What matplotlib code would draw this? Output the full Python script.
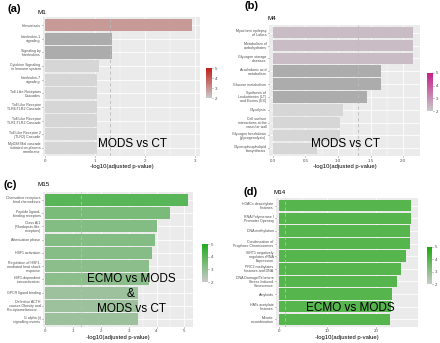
import numpy as np
import matplotlib
matplotlib.use("Agg")
import matplotlib.pyplot as plt
from matplotlib.colors import LinearSegmentedColormap

plt.rcParams['font.family'] = ['Liberation Sans', 'DejaVu Sans']

# panel (a) M1, MODS vs CT
a_terms = ["Hemostasis", "Interleukin-1\nsignaling", "Signaling by\nInterleukins",
           "Cytokine Signaling\nin Immune system", "Interleukin-7\nsignaling",
           "Toll-Like Receptors\nCascades", "Toll Like Receptor\nTLR6:TLR2 Cascade",
           "Toll Like Receptor\nTLR1:TLR2 Cascade", "Toll Like Receptor 2\n(TLR2) Cascade",
           "MyD88:Mal cascade\ninitiated on plasma\nmembrane"]
a_vals = [2.93, 1.33, 1.33, 1.07, 1.03, 1.03, 1.03, 1.03, 1.03, 1.03]
a_fill = [2.85, 1.9, 1.9, None, None, None, None, None, None, None]

# panel (b) M4, MODS vs CT
b_terms = ["Myoclonic epilepsy\nof Lafora", "Metabolism of\ncarbohydrates",
           "Glycogen storage\ndiseases", "Arachidonic acid\nmetabolism",
           "Glucose metabolism", "Synthesis of\nLeukotrienes (LT)\nand Eoxins (EX)",
           "Glycolysis", "Cell surface\ninteractions at the\nvascular wall",
           "Glycogen breakdown\n(glycogenolysis)", "Glycerophospholipid\nbiosynthesis"]
b_vals = [2.15, 2.15, 2.15, 1.66, 1.66, 1.45, 1.08, 1.03, 1.03, 0.67]
b_fill = [2.25, 2.25, 2.25, 1.9, 1.9, 1.9, None, None, None, None]

# panel (c) M15, ECMO vs MODS & MODS vs CT
c_terms = ["Chemokine receptors\nbind chemokines", "Peptide ligand-\nbinding receptors",
           "Class A/1\n(Rhodopsin-like\nreceptors)", "Attenuation phase", "HSF1 activation",
           "Regulation of HSF1-\nmediated heat shock\nresponse", "HSF1-dependent\ntransactivation",
           "GPCR ligand binding", "Defective ACTH\ncauses Obesity and\nPro-opiomelanocor...",
           "G alpha (i)\nsignalling events"]
c_vals = [5.12, 4.50, 4.02, 3.93, 3.85, 3.72, 3.72, 3.33, 3.33, 3.33]
c_fill = [4.0, 3.4, 3.25, 3.25, 3.2, 3.1, 3.1, 2.8, 2.8, 2.8]

# panel (d) M14, ECMO vs MODS
d_terms = ["HDACs deacetylate\nhistones", "RNA Polymerase I\nPromoter Opening",
           "DNA methylation", "Condensation of\nProphase Chromosomes",
           "SIRT1 negatively\nregulates rRNA\nExpression", "PRC2 methylates\nhistones and DNA",
           "DNA Damage/Telomere\nStress Induced\nSenescence", "Amyloids",
           "HATs acetylate\nhistones", "Meiotic\nrecombination"]
d_vals = [27.35, 27.25, 27.0, 27.0, 26.3, 25.2, 24.3, 23.3, 23.15, 22.95]
d_fill = [4.0, 4.0, 4.0, 4.0, 4.0, 4.0, 4.0, 4.0, 4.0, 4.0]

W, H = 440, 343
fig = plt.figure(figsize=(W / 100, H / 100), dpi=100)


def px(l, t, r, b):
    return [l / W, 1 - b / H, (r - l) / W, (b - t) / H]


def bar_colour(f, cmap):
    if f is None:
        return "#D6D6D6"
    if f < 2:
        return "#ACACAC"
    return cmap((f - 2) / 3)


def panel(box, cbox, terms, vals, fill, cmap, xlim, ticks, ticklabels, tag, tagpos, mod, modpos,
          note, notepos):
    ax = fig.add_axes(px(*box))
    ax.set_facecolor("#EBEBEB")
    n = len(terms)
    y = np.arange(n)[::-1]
    cols = [bar_colour(f, cmap) for f in fill]
    ax.set_xlim(*xlim)
    ax.set_ylim(-0.6, n - 0.4)
    ax.set_xticks(ticks)
    minor = [(ticks[i] + ticks[i + 1]) / 2 for i in range(len(ticks) - 1)]
    ax.set_xticks(minor, minor=True)
    ax.grid(True, which="major", color="white", lw=0.6)
    ax.grid(True, which="minor", axis="x", color="white", lw=0.3)
    ax.set_axisbelow(True)
    ax.barh(y, vals, height=0.9, color=cols, zorder=2)
    ax.axvline(1.3, color="#BBBBBB", lw=0.6, ls=(0, (4, 3)), zorder=3)
    ax.set_yticks(y)
    ax.set_yticklabels(terms, fontsize=2.6, color="#4D4D4D", linespacing=1.0)
    ax.set_xticklabels(ticklabels, fontsize=3.2, color="#4D4D4D")
    ax.tick_params(axis="both", length=1.0, width=0.4, color="#333333", pad=0.8)
    ax.tick_params(axis="x", which="minor", length=0)
    for s in ax.spines.values():
        s.set_visible(False)
    ax.set_xlabel("-log10(adjusted p-value)", fontsize=4.2, labelpad=0.8)
    fig.text(tagpos[0] / W, 1 - tagpos[1] / H, tag, fontsize=8, fontweight="bold",
             ha="left", va="center")
    fig.text(modpos[0] / W, 1 - modpos[1] / H, mod, fontsize=4.5, ha="left", va="center")
    fig.text(notepos[0] / W, 1 - notepos[1] / H, note, fontsize=8.5, ha="center",
             va="center", linespacing=1.35, zorder=5)
    cax = fig.add_axes(px(*cbox))
    grad = np.linspace(2, 5, 100).reshape(-1, 1)
    cax.imshow(grad, aspect="auto", cmap=cmap, origin="lower", extent=[0, 1, 2, 5])
    cax.set_xticks([])
    cax.yaxis.tick_right()
    cax.set_yticks([2, 3, 4, 5])
    cax.tick_params(axis="y", labelsize=3.2, length=1, width=0.4, pad=1, colors="#4D4D4D")
    for s in cax.spines.values():
        s.set_visible(False)


red = LinearSegmentedColormap.from_list("r", ["#CACACA", "#C1201A"])
pink = LinearSegmentedColormap.from_list("p", ["#CACACA", "#C51B8A"])
green = LinearSegmentedColormap.from_list("g", ["#CACACA", "#1FAA1F"])
green_d = LinearSegmentedColormap.from_list("gd", ["#CACACA", "#1EAA10"])

panel((43, 17, 200, 156), (206, 68, 212, 98), a_terms, a_vals, a_fill, red,
      (-0.05, 3.1), [0, 1, 2, 3], ["0", "1", "2", "3"], "(a)", (7, 9), "M1", (37, 13),
      "MODS vs CT", (132, 144))
panel((269, 25, 420, 156), (427, 73, 433, 111), b_terms, b_vals, b_fill, pink,
      (-0.06, 2.26), [0, 0.5, 1.0, 1.5, 2.0], ["0.0", "0.5", "1.0", "1.5", "2.0"],
      "(b)", (244, 6), "M4", (267, 19), "MODS vs CT", (345, 144))
panel((43, 192, 193, 327), (202, 244, 208, 282), c_terms, c_vals, c_fill, green,
      (-0.08, 5.31), [0, 1, 2, 3, 4, 5], ["0", "1", "2", "3", "4", "5"],
      "(c)", (4, 185), "M15", (37, 185), "ECMO vs MODS\n&\nMODS vs CT", (131, 294))
panel((276, 198, 418, 327), (427, 247, 432, 284), d_terms, d_vals, d_fill, green_d,
      (-0.62, 28.7), [0, 10, 20], ["0", "10", "20"],
      "(d)", (243, 192), "M14", (273, 192), "ECMO vs MODS", (350, 308))

fig.savefig("out.png", dpi=100)
